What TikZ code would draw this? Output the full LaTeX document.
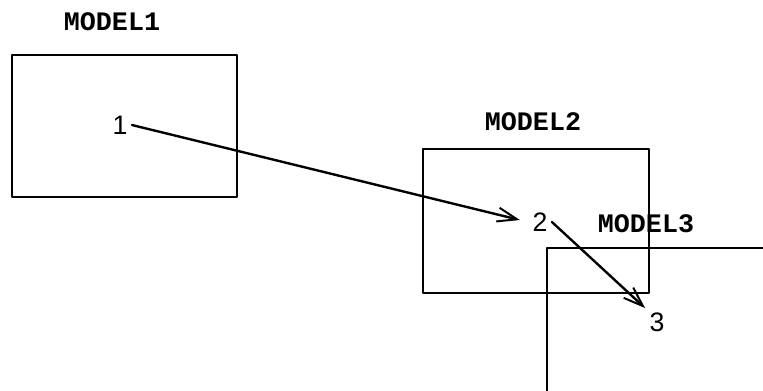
\documentclass[tikz,border=0pt]{standalone}
\usepackage{fontspec}
\setmonofont{Liberation Mono}
\setsansfont{Liberation Sans}
\usetikzlibrary{arrows.meta}
\begin{document}
\begin{tikzpicture}[x=0.025cm,y=-0.025cm, line join=round, line cap=round,
	box/.style={line width=0.9pt},
	modelname/.style={font=\ttfamily\bfseries\fontsize{19}{19}\selectfont, inner sep=0pt},
	num/.style={font=\sffamily\fontsize{19}{19}\selectfont, inner sep=3pt},
	link/.style={-{Straight Barb[length=14pt,width=10pt,line width=1.4pt]}, line width=1.7pt}]
	\useasboundingbox (0,0) rectangle (763,390);
	\clip (0,0) rectangle (763,390);
	% Modelle
	\draw[box] (12,55) rectangle (237,197);
	\draw[box] (423,149) rectangle (649,293);
	\draw[box] (547,392) -- (547,248) -- (770,248);
	\node[modelname] (name1) at (112,22) {MODEL1};
	\node[modelname] (name2) at (533,122) {MODEL2};
	\node[modelname] (name3) at (646,224) {MODEL3};
	% Verbindungen
	\node[num] (n1) at (120,125) {1};
	\node[num] (n2) at (540,222) {2};
	\node[num] (n3) at (657,322) {3};
	\draw[link, shorten >=6pt] (n1.east) -- (n2.west);
	\draw[link] (n2.east) -- (n3.north west);
\end{tikzpicture}
\end{document}
